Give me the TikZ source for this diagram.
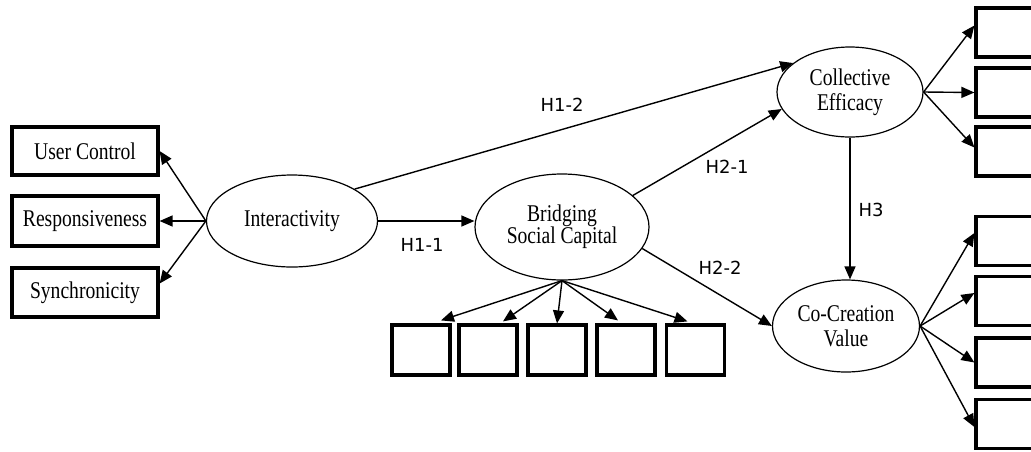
\documentclass[tikz,border=0pt]{standalone}
\usepackage{graphicx}
\usepackage{fontspec}
\setmainfont{Liberation Serif}
\newfontfamily\labfont{DejaVu Sans}
\usetikzlibrary{shapes.geometric,arrows.meta,calc}
\newcommand\vstr[1]{\scalebox{0.98}[1.2]{#1}}
\begin{document}
\begin{tikzpicture}[x=1pt,y=-1pt,
 lat/.style={ellipse,draw,line width=1.2pt,inner sep=0pt,align=center,font=\fontsize{20}{25}\selectfont},
 obs/.style={draw,line width=3.2pt,inner sep=0pt,font=\fontsize{20}{23}\selectfont},
 con/.style={line width=1.4pt,-{Triangle[length=13pt,width=11pt]}},
 hl/.style={font=\labfont\fontsize{18}{20}\selectfont}]
\useasboundingbox (0,0) rectangle (1031,451);
\clip (0,0) rectangle (1031,451);
% left observed
\node[obs,minimum width=146pt,minimum height=48pt] (uc) at (85,151) {\vstr{User Control}};
\node[obs,minimum width=146pt,minimum height=50pt] (rs) at (85,221) {\vstr{Responsiveness}};
\node[obs,minimum width=146pt,minimum height=49pt] (sy) at (85,292.5) {\vstr{Synchronicity}};
% latent
\node[lat,minimum width=171pt,minimum height=92pt] (int) at (292,221) {\vstr{Interactivity}};
\node[lat,minimum width=174pt,minimum height=106pt] (br) at (562,227) {\vstr{Bridging}\\[-3pt]\vstr{Social Capital}};
\node[lat,minimum width=146pt,minimum height=90pt] (ce) at (850,92) {\vstr{Collective}\\\vstr{Efficacy}};
\node[lat,minimum width=147pt,minimum height=92pt] (cc) at (846,326) {\vstr{Co-Creation}\\\vstr{Value}};
% bottom boxes
\foreach \n/\x in {b1/421,b2/488,b3/557,b4/626,b5/695.5}
  \node[obs,minimum width=58pt,minimum height=50pt] (\n) at (\x,350) {};
% right boxes
\foreach \n/\y in {r1/32.5,r2/92.5,r3/151.5,r4/241,r5/301,r6/362.5,r7/424}
  \node[obs,minimum width=80pt,minimum height=49pt] (\n) at (1016,\y) {};
% left arrows
\draw[con] (int.west) -- (uc.east);
\draw[con] (int.west) -- (rs.east);
\draw[con] (int.west) -- ($(sy.east)+(0,-9)$);
% structural paths
\draw[con] (int.east) -- (int.east -| br.west);
\draw[con] (int.27) -- (ce.153);
\draw[con] (br.24) -- (ce.194);
\draw[con] (br.-15) -- (cc.west);
\draw[con] (ce.south) -- (ce.south |- cc.north);
% bridging indicators
\draw[con] (br.south) -- ($(b1.north)+(20,-3)$);
\draw[con] (br.south) -- ($(b2.north)+(15,-2)$);
\draw[con] (br.south) -- (b3.north);
\draw[con] (br.south) -- ($(b4.north)+(-8,-3)$);
\draw[con] (br.south) -- ($(b5.north)+(-8,-2)$);
% efficacy indicators
\draw[con] (ce.east) -- ($(r1.west)+(0,-7)$);
\draw[con] (ce.east) -- (r2.west);
\draw[con] (ce.east) -- ($(r3.west)+(0,-4)$);
% co-creation indicators
\draw[con] (cc.east) -- ($(r4.west)+(0,-8)$);
\draw[con] (cc.east) -- ($(r5.west)+(0,-8)$);
\draw[con] (cc.east) -- (r6.west);
\draw[con] (cc.east) -- ($(r7.west)+(0,3)$);
% labels
\node[hl] (l12) at (562,105) {H1-2};
\node[hl] (l11) at (422,245) {H1-1};
\node[hl] (l21) at (727,167) {H2-1};
\node[hl] (l22) at (720,268) {H2-2};
\node[hl] (l3) at (871,210) {H3};
\end{tikzpicture}
\end{document}
